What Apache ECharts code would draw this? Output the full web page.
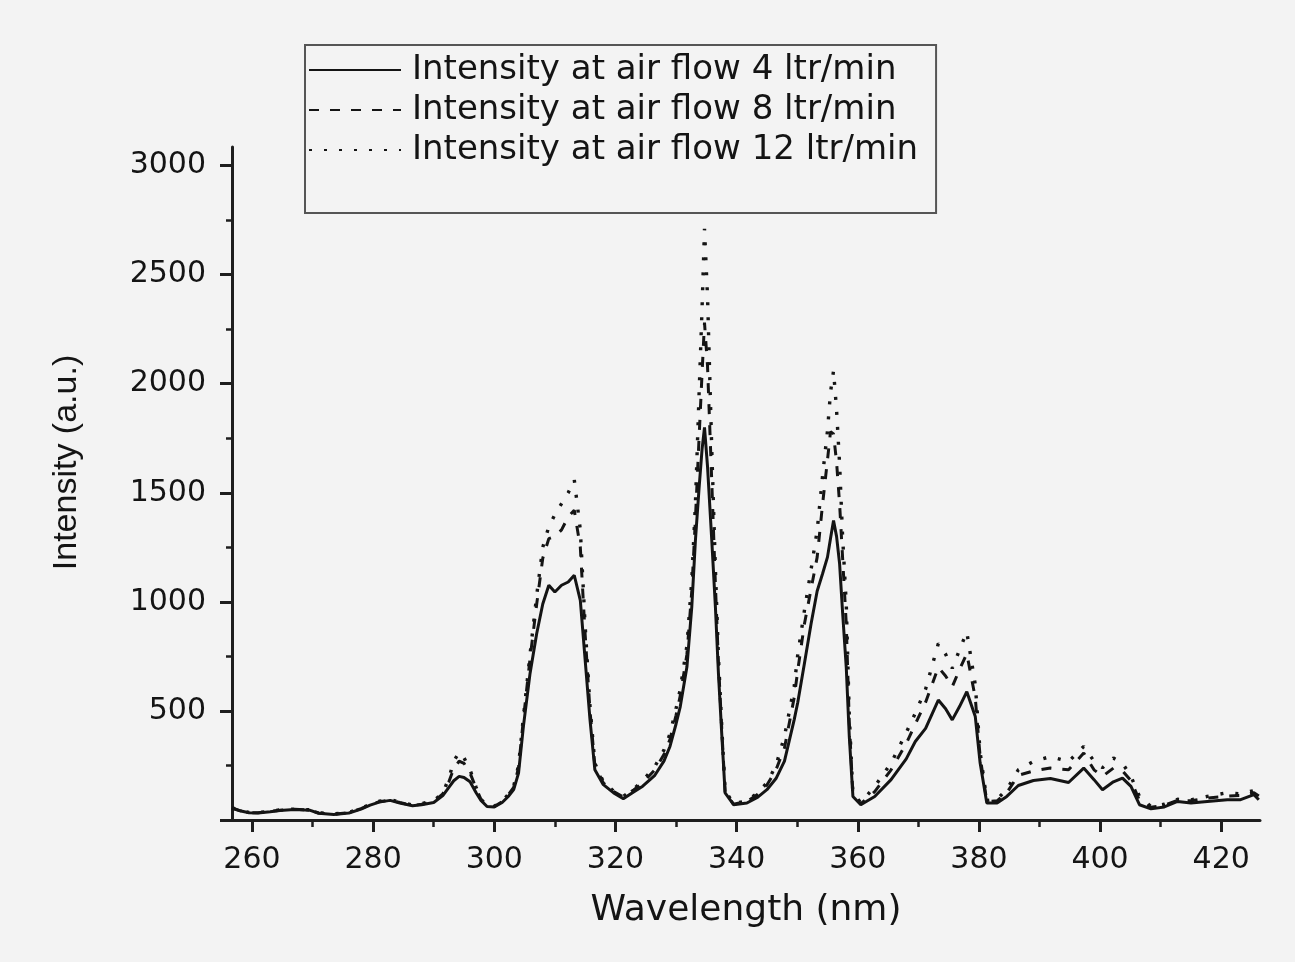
<!DOCTYPE html>
<html>
<head>
<meta charset="utf-8">
<script src="https://cdn.jsdelivr.net/npm/echarts@6/dist/echarts.min.js"></script>
<style>
  html, body { margin: 0; padding: 0; background: #f3f3f3; }
  #chart { width: 1295px; height: 962px; }
</style>
</head>
<body>
<div id="chart"></div>
<script>
// ---- Data ----
const seriesNames = [
  'Intensity at air flow 4 ltr/min',
  'Intensity at air flow 8 ltr/min',
  'Intensity at air flow 12 ltr/min'
];

const wavelength = [
  256.7, 258, 259.5, 261, 263, 264.6, 267, 269.5, 271, 273.5,
  276, 278, 279.5, 281, 282.8, 284.4, 286.5, 288, 290, 291.5,
  292.5, 293.3, 294.2, 295, 296, 297, 297.8, 298.8, 300, 301.3,
  302.3, 303.2, 304, 304.8, 305.9, 307, 308, 309, 310, 311.1,
  312.2, 313.2, 314.2, 315, 315.8, 316.6, 318, 319.7, 321.3, 323,
  324.5, 326.5, 328, 329, 330, 330.7, 331.8, 332.6, 333.2, 333.8,
  334.3, 334.7, 335.2, 335.9, 336.5, 337, 337.6, 338.1, 339.5, 341.7,
  343.5, 345, 346.5, 347.9, 349.5, 350.1, 351.2, 352.3, 353.3, 354.2,
  355, 355.5, 356, 356.5, 357, 357.5, 358.1, 358.6, 359.2, 360.5,
  362.8, 365.5, 368, 369.5, 371.2, 373.3, 374.5, 375.6, 376.8, 378,
  379.4, 380.2, 381.3, 383, 384.6, 386.5, 389, 391.8, 394.8, 397.3,
  399, 400.4, 402.2, 403.7, 405.1, 406.5, 408.4, 410.6, 412.8, 415,
  417.7, 421, 423.2, 425.4, 426.2
];

const flow4 = [
  55, 42, 33, 32, 38, 44, 48, 45, 31, 25,
  32, 50, 68, 82, 90, 78, 65, 70, 80, 112,
  150, 180, 200, 195, 175, 125, 90, 62, 60, 80,
  108, 139, 215, 428, 672, 855, 990, 1076, 1045, 1076,
  1091, 1122, 1007, 733, 459, 230, 162, 124, 98, 128,
  155, 205, 270, 337, 440, 520, 702, 977, 1282, 1520,
  1700, 1800, 1620, 1282, 977, 672, 367, 124, 70, 78,
  105, 139, 190, 270, 459, 540, 718, 901, 1050, 1130,
  1205, 1290, 1373, 1300, 1175, 950, 700, 383, 108, 70,
  108, 185, 280, 360, 420, 550, 510, 459, 520, 588,
  474, 261, 78, 78, 108, 158, 181, 190, 172, 238,
  185, 139, 175, 192, 154, 70, 51, 60, 85, 78,
  85, 93, 93, 116, 93
];

const flow8 = [
  55, 43, 34, 33, 39, 45, 49, 46, 32, 27,
  34, 52, 70, 84, 92, 80, 67, 72, 84, 120,
  175, 235, 270, 260, 215, 145, 95, 65, 62, 84,
  115, 150, 240, 460, 740, 990, 1200, 1290, 1300, 1330,
  1390, 1420, 1250, 850, 500, 250, 170, 130, 105, 138,
  170, 230, 300, 370, 480, 570, 760, 1050, 1380, 1750,
  2050, 2280, 2080, 1550, 1080, 720, 390, 130, 72, 85,
  118, 160, 230, 330, 560, 687, 900, 1060, 1205, 1450,
  1650, 1780, 1770, 1640, 1450, 1200, 900, 450, 115, 75,
  130, 230, 350, 440, 540, 700, 660, 611, 690, 763,
  560, 290, 85, 88, 125, 205, 225, 238, 230, 307,
  230, 200, 238, 225, 180, 90, 58, 68, 90, 88,
  100, 110, 112, 125, 110
];

const flow12 = [
  56, 44, 35, 34, 40, 46, 50, 47, 33, 28,
  35, 54, 72, 86, 94, 82, 69, 75, 88, 125,
  190, 270, 310, 285, 230, 150, 95, 65, 63, 86,
  118, 155, 250, 470, 760, 1030, 1250, 1345, 1400, 1450,
  1500, 1560, 1330, 890, 520, 260, 175, 132, 108, 142,
  180, 245, 320, 395, 510, 600, 800, 1100, 1450, 1950,
  2350, 2710, 2400, 1700, 1150, 750, 400, 135, 75, 88,
  125, 170, 250, 383, 611, 760, 961, 1150, 1327, 1580,
  1784, 1960, 2059, 1880, 1632, 1297, 992, 480, 120, 80,
  154, 261, 400, 490, 600, 809, 760, 695, 780, 862,
  620, 310, 90, 95, 140, 230, 268, 291, 268, 337,
  270, 240, 284, 260, 200, 108, 62, 72, 95, 92,
  108, 125, 120, 135, 118
];

const xMajorTicks = [260, 280, 300, 320, 340, 360, 380, 400, 420];
const xMinorTicks = [270, 290, 310, 330, 350, 370, 390, 410];
const yLabelTicks = [500, 1000, 1500, 2000, 2500, 3000];
const yMajorTicks = [0, 500, 1000, 1500, 2000, 2500, 3000];
const yMinorTicks = [250, 750, 1250, 1750, 2250, 2750];

const X_MIN = 256.7, X_MAX = 426.4, Y_MIN = 0, Y_MAX = 3085;

// ---- Build series ----
function pairs(ys) { return wavelength.map((w, i) => [w, ys[i]]); }

const ink = '#141414';
const axisColor = '#1e1e1e';
const tickFont = 'DejaVu Sans';

const chart = echarts.init(document.getElementById('chart'));
chart.setOption({
  animation: false,
  backgroundColor: '#f3f3f3',
  grid: { left: 232, right: 35, top: 147, bottom: 142 },
  legend: {
    left: 305, top: 45,
    orient: 'vertical',
    padding: [7, 18, 45, 3],
    itemGap: 4,
    itemWidth: 92,
    itemHeight: 14,
    borderColor: '#555',
    borderWidth: 2,
    itemStyle: { opacity: 0 },
    textStyle: { fontFamily: tickFont, fontSize: 34, color: ink, lineHeight: 36, padding: [0, 0, 0, 6] },
    data: seriesNames
  },
  xAxis: [
    {
      type: 'value', min: X_MIN, max: X_MAX, position: 'bottom',
      name: 'Wavelength (nm)', nameLocation: 'middle', nameGap: 73,
      nameTextStyle: { fontFamily: tickFont, fontSize: 36, color: ink },
      axisLine: { show: true, onZero: false, lineStyle: { color: axisColor, width: 3 } },
      axisTick: { show: true, inside: false, length: 12, customValues: xMajorTicks, lineStyle: { color: axisColor, width: 3 } },
      axisLabel: { show: true, margin: 25, customValues: xMajorTicks, fontFamily: tickFont, fontSize: 30, color: ink,
        formatter: v => String(v) },
      splitLine: { show: false }
    },
    {
      type: 'value', min: X_MIN, max: X_MAX, position: 'bottom',
      axisLine: { show: false },
      axisTick: { show: true, inside: false, length: 7, customValues: xMinorTicks, lineStyle: { color: axisColor, width: 2.5 } },
      axisLabel: { show: false },
      splitLine: { show: false }
    }
  ],
  yAxis: [
    {
      type: 'value', min: Y_MIN, max: Y_MAX, position: 'left',
      name: 'Intensity (a.u.)', nameLocation: 'middle', nameGap: 148,
      nameTextStyle: { fontFamily: 'Liberation Sans', fontSize: 34, color: ink, padding: [0, 0, 0, 42] },
      axisLine: { show: true, onZero: false, lineStyle: { color: axisColor, width: 3 } },
      axisTick: { show: true, inside: false, length: 12, customValues: yMajorTicks, lineStyle: { color: axisColor, width: 3 } },
      axisLabel: { show: true, margin: 26, customValues: yLabelTicks, fontFamily: tickFont, fontSize: 30, color: ink,
        formatter: v => String(v) },
      splitLine: { show: false }
    },
    {
      type: 'value', min: Y_MIN, max: Y_MAX, position: 'left',
      axisLine: { show: false },
      axisTick: { show: true, inside: false, length: 6, customValues: yMinorTicks, lineStyle: { color: axisColor, width: 2.5 } },
      axisLabel: { show: false },
      splitLine: { show: false }
    }
  ],
  series: [
    {
      name: seriesNames[0], type: 'line', xAxisIndex: 0, yAxisIndex: 0,
      data: pairs(flow4), symbol: 'none', z: 4,
      lineStyle: { color: ink, width: 3, type: 'solid' },
      itemStyle: { color: ink }
    },
    {
      name: seriesNames[1], type: 'line', xAxisIndex: 0, yAxisIndex: 0,
      data: pairs(flow8), symbol: 'none', z: 3,
      lineStyle: { color: ink, width: 3, type: [10, 11] },
      itemStyle: { color: ink }
    },
    {
      name: seriesNames[2], type: 'line', xAxisIndex: 0, yAxisIndex: 0,
      data: pairs(flow12), symbol: 'none', z: 2,
      lineStyle: { color: ink, width: 3.4, type: [3, 12] },
      itemStyle: { color: ink }
    }
  ]
});
</script>
</body>
</html>
